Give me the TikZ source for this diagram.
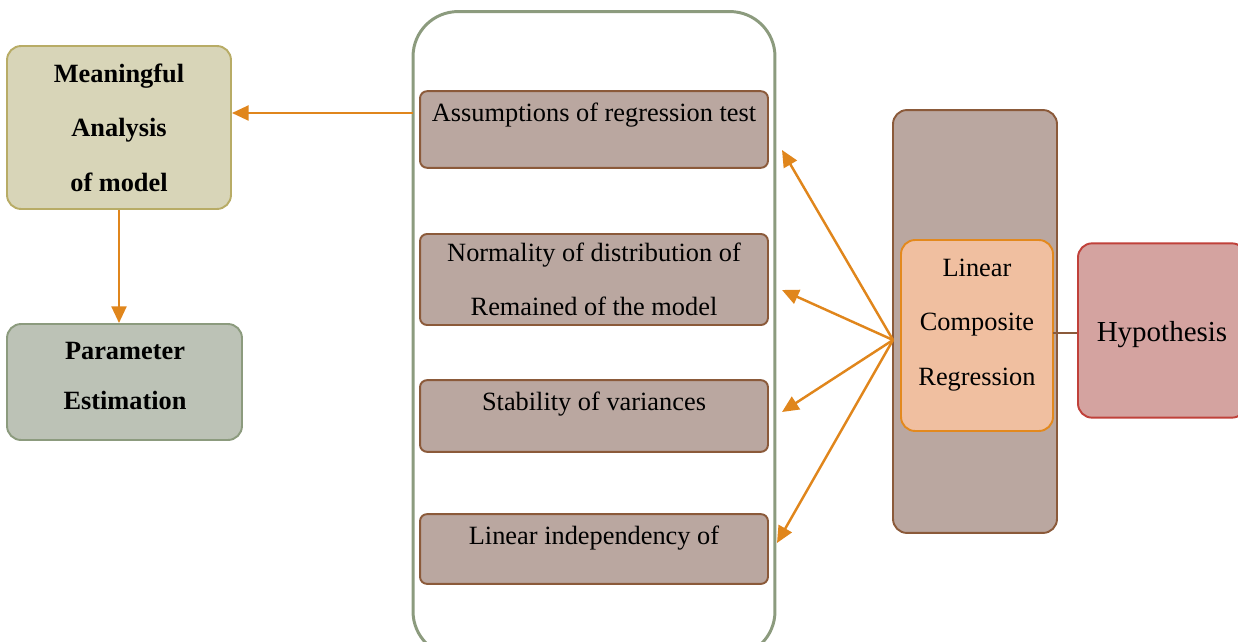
\documentclass[tikz,border=0pt]{standalone}
\usepackage{fontspec}
\setmainfont{Liberation Serif}
\usetikzlibrary{arrows.meta}
\definecolor{BoxBeige}{HTML}{D8D5B8}
\definecolor{BoxBeigeLine}{HTML}{B8AC66}
\definecolor{BoxSage}{HTML}{BCC2B6}
\definecolor{BoxSageLine}{HTML}{8C9B7E}
\definecolor{BoxBrown}{HTML}{BAA7A0}
\definecolor{BoxBrownLine}{HTML}{8B5A3A}
\definecolor{BoxPeach}{HTML}{F0BFA0}
\definecolor{BoxPeachLine}{HTML}{E3891E}
\definecolor{BoxRose}{HTML}{D4A3A0}
\definecolor{BoxRoseLine}{HTML}{C0413A}
\definecolor{ArrowOrange}{HTML}{E0861C}

\begin{document}
\begin{tikzpicture}[x=0.02cm, y=-0.02cm,
    >={Triangle[length=9.5pt,width=8.5pt]},
    flow/.style={->, line width=1.4pt, ArrowOrange},
    txt/.style={font=\fontsize{15}{31}\selectfont, align=center},
    testbox/.style={txt, draw=BoxBrownLine, fill=BoxBrown, line width=1.1pt,
        rounded corners=4pt, minimum width=6.96cm, inner sep=0pt}]
    \useasboundingbox (0,0) rectangle (1238,642);

    % Left column: analysis and estimation
    \node[txt, font=\fontsize{15}{31}\selectfont\bfseries, draw=BoxBeigeLine, fill=BoxBeige,
        line width=1.1pt, rounded corners=8pt, minimum width=4.48cm, minimum height=3.26cm]
        (meaning) at (119,127.5) {Meaningful\\Analysis\\of model};
    \node[draw=BoxSageLine, fill=BoxSage, line width=1.1pt, rounded corners=8pt,
        minimum width=4.7cm, minimum height=2.32cm] (param) at (124.5,382) {};
    \node[txt, font=\fontsize{15}{28}\selectfont\bfseries] (paramtext) at (125,376)
        {Parameter\\Estimation};

    % Middle container with the regression assumptions
    \node[draw=BoxSageLine, line width=1.7pt, rounded corners=0.9cm,
        minimum width=7.24cm, minimum height=12.9cm] (tests) at (594,334) {};
    \node[testbox, text height=17pt, text depth=26.6pt] (t1) at (594,129.5)
        {Assumptions of regression test};
    \node[testbox, minimum height=1.82cm] (t2) at (594,279.5)
        {\rule{0pt}{2pt}Normality of distribution of\\Remained of the model};
    \node[testbox, text height=17.5pt, text depth=23.3pt] (t3) at (594,416)
        {Stability of variances};
    \node[testbox, text height=17.5pt, text depth=22.2pt] (t4) at (594,549)
        {Linear independency of};

    % Right side: regression and hypothesis
    \node[draw=BoxBrownLine, fill=BoxBrown, line width=1.1pt, rounded corners=8pt,
        minimum width=3.28cm, minimum height=8.46cm] (model) at (975,321.5) {};
    \node[draw=BoxPeachLine, fill=BoxPeach, line width=1.1pt, rounded corners=8pt,
        minimum width=3.04cm, minimum height=3.82cm] (lcr) at (977,335.5) {};
    \node[txt] (lcrtext) at (977,325) {Linear\\Composite\\Regression};
    \node[font=\fontsize{16.5}{20}\selectfont, draw=BoxRoseLine, fill=BoxRose,
        line width=1.1pt, rounded corners=8pt, minimum width=3.36cm, inner ysep=0pt,
        text height=56pt, text depth=43.2pt] (hyp) at (1162,330.5) {Hypothesis};

    % Arrow ends
    \coordinate (hub) at (893,340);
    \coordinate (e1) at (782,150);
    \coordinate (e2) at (782,290);
    \coordinate (e3) at (782,412);
    \coordinate (e4) at (777,543);
    \coordinate (src) at (413,113);
    \coordinate (tie) at (1053,333);

    % Connectors
    \draw[flow] (src) -- (meaning.east |- src);
    \draw[flow] (meaning.south) -- (meaning.south |- param.north);
    \foreach \e in {e1,e2,e3,e4}
        \draw[flow] (hub) -- (\e);
    \draw[BoxBrownLine, line width=1pt] (tie) -- (hyp.west |- tie);

\end{tikzpicture}
\end{document}
